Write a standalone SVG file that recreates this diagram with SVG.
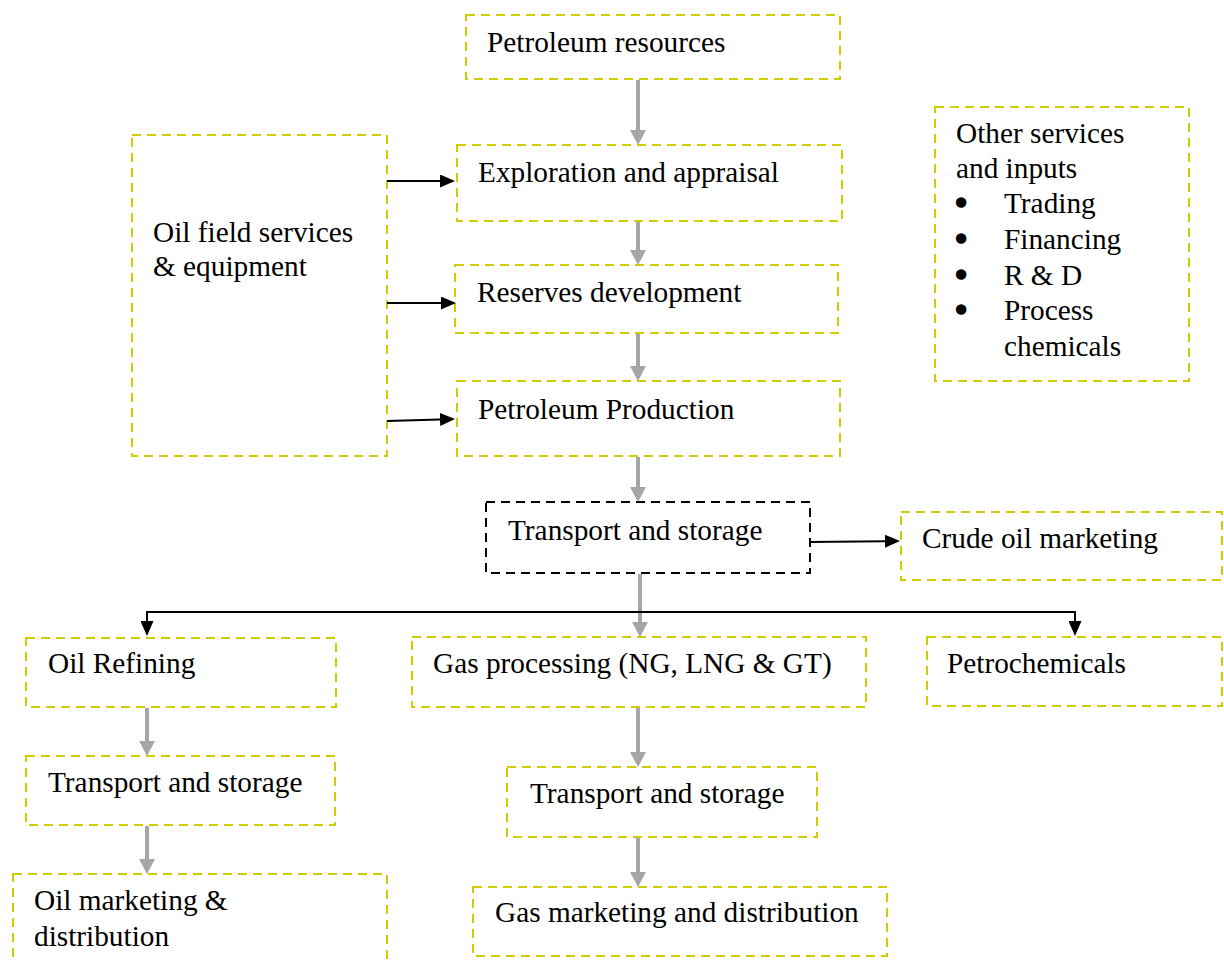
<svg xmlns="http://www.w3.org/2000/svg" width="1224" height="962" viewBox="0 0 1224 962">
  <style>
    .box { fill: #ffffff; stroke: #cfcc00; stroke-width: 2; stroke-dasharray: 9 6; }
    .box-dark { fill: #ffffff; stroke: #000000; stroke-width: 2; stroke-dasharray: 9 6; }
    text { font-family: 'Liberation Serif', serif; font-size: 29.3px; fill: #000000; }
    .dot { stroke: #000000; stroke-width: 3.5; stroke-linejoin: round; }
    .flow { fill: none; stroke: #a6a6a6; stroke-width: 4; marker-end: url(#head-gray); }
    .link { fill: none; stroke: #000000; stroke-width: 2; }
  </style>
  <defs>
    <marker id="head-gray" viewBox="0 0 15 16" refX="0" refY="8" markerWidth="15" markerHeight="16" markerUnits="userSpaceOnUse" orient="auto">
      <path d="M0,0 L15,8 L0,16 z" fill="#a6a6a6"/>
    </marker>
    <marker id="head-black" viewBox="0 0 15 13" refX="0" refY="6.5" markerWidth="15" markerHeight="13" markerUnits="userSpaceOnUse" orient="auto-start-reverse">
      <path d="M0,0 L15,6.5 L0,13 z" fill="#000000"/>
    </marker>
  </defs>

  <rect width="1224" height="962" fill="#ffffff"/>

  <!-- upstream chain -->
  <g id="petroleum-resources">
    <rect class="box" x="466" y="15" width="374" height="64"/>
    <text x="487" y="52">Petroleum resources</text>
  </g>
  <g id="exploration">
    <rect class="box" x="457" y="145" width="385" height="76"/>
    <text x="478" y="182">Exploration and appraisal</text>
  </g>
  <g id="reserves">
    <rect class="box" x="455" y="265" width="383" height="68"/>
    <text x="477" y="302">Reserves development</text>
  </g>
  <g id="production">
    <rect class="box" x="457" y="381" width="383" height="75"/>
    <text x="478" y="419">Petroleum Production</text>
  </g>
  <g id="oilfield-services">
    <rect class="box" x="132" y="135" width="255" height="321"/>
    <text x="153" y="242">Oil field services</text>
    <text x="153" y="276">&amp; equipment</text>
  </g>
  <g id="other-services">
    <rect class="box" x="935" y="107" width="254" height="274"/>
    <text x="956" y="143">Other services</text>
    <text x="956" y="178">and inputs</text>
    <text class="dot" x="956" y="213">•</text>
    <text x="1004" y="213">Trading</text>
    <text class="dot" x="956" y="249">•</text>
    <text x="1004" y="249">Financing</text>
    <text class="dot" x="956" y="285">•</text>
    <text x="1004" y="285">R &amp; D</text>
    <text class="dot" x="956" y="320">•</text>
    <text x="1004" y="320">Process</text>
    <text x="1004" y="356">chemicals</text>
  </g>

  <!-- midstream -->
  <g id="transport-main">
    <rect class="box-dark" x="486" y="502" width="324" height="71"/>
    <text x="508" y="540">Transport and storage</text>
  </g>
  <g id="crude-marketing">
    <rect class="box" x="901" y="512" width="321" height="68"/>
    <text x="922" y="548">Crude oil marketing</text>
  </g>

  <!-- downstream -->
  <g id="oil-refining">
    <rect class="box" x="26" y="638" width="310" height="69"/>
    <text x="48" y="673">Oil Refining</text>
  </g>
  <g id="gas-processing">
    <rect class="box" x="412" y="637" width="454" height="70"/>
    <text x="433" y="673">Gas processing (NG, LNG &amp; GT)</text>
  </g>
  <g id="petrochemicals">
    <rect class="box" x="927" y="637" width="295" height="69"/>
    <text x="947" y="673">Petrochemicals</text>
  </g>
  <g id="transport-oil">
    <rect class="box" x="26" y="756" width="309" height="69"/>
    <text x="48" y="792">Transport and storage</text>
  </g>
  <g id="transport-gas">
    <rect class="box" x="507" y="767" width="310" height="70"/>
    <text x="530" y="803">Transport and storage</text>
  </g>
  <g id="oil-marketing">
    <rect class="box" x="13" y="874" width="374" height="110"/>
    <text x="34" y="910">Oil marketing &amp;</text>
    <text x="34" y="946">distribution</text>
  </g>
  <g id="gas-marketing">
    <rect class="box" x="473" y="887" width="414" height="69"/>
    <text x="495" y="922">Gas marketing and distribution</text>
  </g>

  <!-- connectors -->
  <g id="connectors">
    <line class="flow" x1="638" y1="80" x2="638" y2="130"/>
    <line class="flow" x1="638" y1="222" x2="638" y2="250"/>
    <line class="flow" x1="638" y1="334" x2="638" y2="366"/>
    <line class="flow" x1="638" y1="457" x2="638" y2="487"/>
    <line class="flow" x1="640" y1="574" x2="640" y2="622"/>
    <line class="flow" x1="147" y1="708" x2="147" y2="741"/>
    <line class="flow" x1="147" y1="826" x2="147" y2="859"/>
    <line class="flow" x1="638" y1="708" x2="638" y2="752"/>
    <line class="flow" x1="638" y1="838" x2="638" y2="872"/>

    <line class="link" x1="387" y1="181" x2="440" y2="181" marker-end="url(#head-black)"/>
    <line class="link" x1="387" y1="303" x2="441" y2="303" marker-end="url(#head-black)"/>
    <line class="link" x1="387" y1="421" x2="440" y2="419.4" marker-end="url(#head-black)"/>
    <line class="link" x1="810" y1="542" x2="885" y2="541.2" marker-end="url(#head-black)"/>
    <path class="link" d="M147,621 L147,612 L1075,612 L1075,621" marker-start="url(#head-black)" marker-end="url(#head-black)"/>
  </g>
</svg>
